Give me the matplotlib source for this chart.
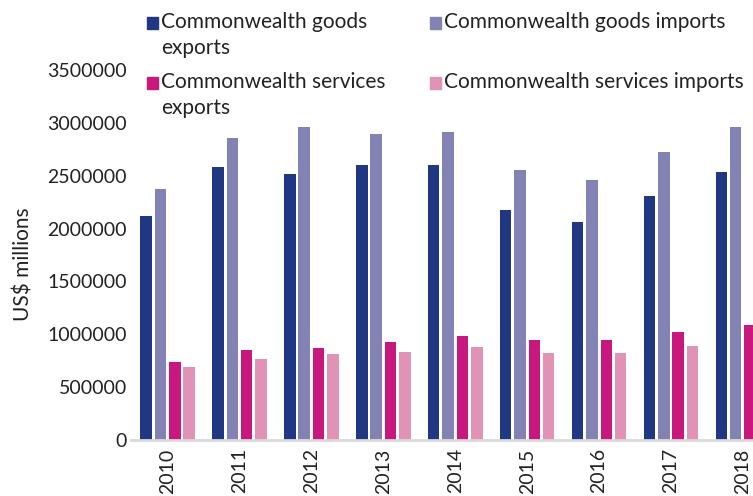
import numpy as np
import matplotlib.pyplot as plt
from matplotlib.patches import Rectangle

plt.rcParams["font.family"] = ["Lato", "DejaVu Sans"]

years = ["2010", "2011", "2012", "2013", "2014", "2015", "2016", "2017", "2018"]
goods_exports = [2120000, 2585000, 2519000, 2597000, 2597000, 2173000, 2066000, 2305000, 2531000]
goods_imports = [2377000, 2852000, 2956000, 2890000, 2916000, 2550000, 2456000, 2720000, 2956000]
services_exports = [739000, 849000, 874000, 927000, 981000, 943000, 943000, 1022000, 1085000]
services_imports = [692000, 767000, 811000, 833000, 880000, 824000, 824000, 890000, 930000]

series = [
    ("Commonwealth goods\nexports", goods_exports, "#203783"),
    ("Commonwealth goods imports", goods_imports, "#8282b4"),
    ("Commonwealth services\nexports", services_exports, "#c8187e"),
    ("Commonwealth services imports", services_imports, "#e093b4"),
]
text_color = "#222222"

W, H = 753, 496
fig = plt.figure(figsize=(W / 100, H / 100), dpi=100)
ax = fig.add_axes([0.174, 0.113, 0.826, 0.746])

x = np.arange(len(years))
offsets = [-0.3, -0.1, 0.1, 0.3]
for (label, values, color), off in zip(series, offsets):
    ax.bar(x + off, values, width=0.16, color=color, label=label, zorder=2)

ax.set_xlim(-0.508, 8.14)
ax.set_ylim(0, 3500000)
ax.set_yticks(np.arange(0, 3500001, 500000))
ax.set_yticklabels([str(v) for v in range(0, 3500001, 500000)])
ax.set_xticks(x)
ax.set_xticklabels(years, rotation=90)
ax.tick_params(axis="y", length=0, labelsize=14, colors=text_color, pad=3)
ax.tick_params(axis="x", length=0, labelsize=14, colors=text_color, pad=6)

for side in ["top", "right", "left"]:
    ax.spines[side].set_visible(False)
ax.spines["bottom"].set_color("#d9d9d9")
ax.spines["bottom"].set_linewidth(2)

ax.set_ylabel("US$ millions", fontsize=15, color=text_color)
ax.yaxis.set_label_coords(-0.156, 0.476)

# legend drawn by hand: 2 x 2 grid, swatch aligned with the first text line
legend_cols = [147, 430]
legend_rows = [23, 83]
for i, (label, values, color) in enumerate(series):
    lx = legend_cols[i % 2]
    ly = legend_rows[i // 2]
    fig.add_artist(Rectangle((lx / W, 1 - (ly + 5.5) / H), 11 / W, 11 / H,
                             transform=fig.transFigure, color=color))
    fig.text((lx + 14) / W, 1 - (ly - 11) / H, label, fontsize=15,
             color=text_color, va="top", ha="left", linespacing=1.4)

fig.savefig("out.png", dpi=100)
